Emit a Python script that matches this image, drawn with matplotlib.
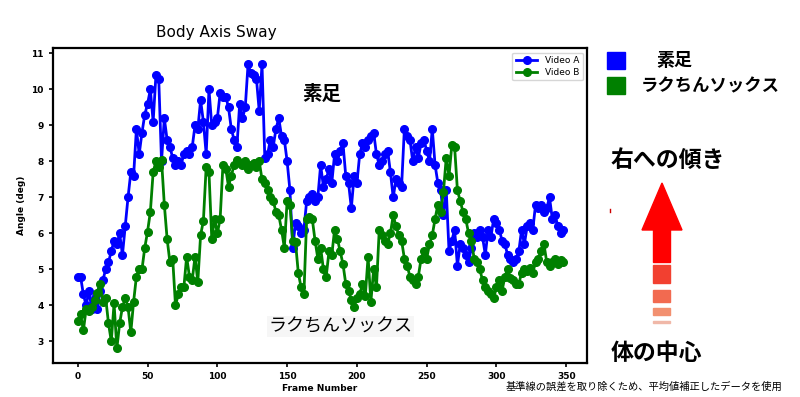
"""
Body Axis Sway: 素足 vs ラクちんソックス
"""

import numpy as np
import matplotlib
matplotlib.use("Agg")
import matplotlib.pyplot as plt
from matplotlib.patches import Polygon, Rectangle

plt.rcParams["font.family"] = ["DejaVu Sans", "Noto Sans CJK JP"]
JP = ["Noto Sans CJK JP", "DejaVu Sans"]

# frame numbers (every 2nd frame)
frames = np.arange(0, 350, 2)

# Video A (素足)
video_a = [
    4.8, 4.8, 4.3, 4.0, 4.4, 3.9, 4.2, 3.9, 4.4, 4.7,
    5.0, 5.2, 5.5, 5.8, 5.7, 6.0, 5.4, 6.2, 7.0, 7.7,
    7.6, 8.9, 8.2, 8.8, 9.3, 9.6, 10.0, 9.1, 10.4, 10.3,
    8.0, 9.2, 8.6, 8.4, 8.1, 7.9, 8.0, 7.9, 8.2, 8.3,
    8.2, 8.4, 9.0, 8.9, 9.7, 9.1, 8.2, 10.0, 9.0, 9.1,
    9.2, 9.9, 9.8, 9.8, 9.5, 8.9, 8.6, 8.4, 9.6, 9.2,
    9.5, 10.7, 10.45, 10.4, 10.3, 9.4, 10.7, 8.1, 8.2, 8.6,
    8.4, 8.9, 9.2, 8.7, 8.6, 8.0, 7.2, 5.6, 6.3, 6.2,
    6.0, 6.1, 6.9, 7.0, 7.1, 6.9, 7.0, 7.9, 7.3, 7.5,
    7.8, 7.4, 8.2, 8.0, 8.3, 8.5, 7.6, 7.4, 6.7, 7.6,
    7.4, 8.2, 8.5, 8.4, 8.6, 8.7, 8.8, 8.2, 7.9, 8.0,
    8.2, 8.3, 7.7, 7.0, 7.5, 7.4, 7.3, 8.9, 8.7, 8.6,
    8.0, 8.4, 8.1, 8.5, 8.6, 8.3, 8.0, 8.9, 7.9, 7.4,
    7.2, 6.5, 7.2, 5.5, 5.8, 6.1, 5.1, 5.7, 5.6, 5.4,
    5.2, 5.6, 6.0, 5.9, 6.1, 5.9, 5.4, 6.1, 5.9, 6.4,
    6.3, 6.1, 5.8, 5.7, 5.4, 5.3, 5.2, 5.3, 5.5, 6.1,
    5.7, 6.2, 6.3, 6.1, 6.8, 6.7, 6.8, 6.6, 6.7, 7.0,
    6.4, 6.5, 6.2, 6.0, 6.1,
]

# Video B (ラクちんソックス)
video_b = [
    3.55, 3.75, 3.3, 3.9, 3.85, 3.95, 4.15, 4.35, 4.6, 4.1,
    4.2, 3.5, 3.0, 4.05, 2.8, 3.5, 3.95, 4.2, 3.95, 3.25,
    4.1, 4.8, 5.0, 5.0, 5.6, 6.05, 6.6, 7.7, 8.0, 7.85,
    8.05, 6.8, 5.85, 5.2, 5.3, 4.0, 4.3, 4.5, 4.5, 5.35,
    4.8, 4.7, 5.35, 4.65, 5.95, 6.35, 7.85, 7.7, 5.85, 6.4,
    6.0, 6.4, 7.9, 7.8, 7.3, 7.6, 7.9, 8.05, 7.95, 7.9,
    8.0, 7.8, 7.9, 7.95, 7.85, 8.0, 7.5, 7.4, 7.2, 7.0,
    6.9, 6.6, 6.5, 6.1, 5.6, 6.9, 6.8, 5.8, 5.75, 4.9,
    4.5, 4.3, 6.4, 6.45, 6.4, 5.8, 5.3, 5.6, 5.0, 4.8,
    5.5, 5.4, 6.1, 5.85, 5.5, 5.15, 4.6, 4.4, 4.15, 3.95,
    4.2, 4.3, 4.6, 4.25, 5.35, 4.1, 5.0, 4.5, 6.1, 5.95,
    5.8, 5.7, 6.0, 6.5, 6.2, 5.95, 5.8, 5.3, 5.1, 4.8,
    4.7, 4.6, 4.8, 5.3, 5.5, 5.3, 5.7, 5.95, 6.4, 6.8,
    6.6, 7.15, 8.1, 7.6, 8.45, 8.4, 7.2, 6.9, 6.6, 6.4,
    6.0, 5.8, 5.3, 5.2, 5.0, 4.7, 4.5, 4.4, 4.3, 4.2,
    4.5, 4.7, 4.4, 4.8, 5.0, 4.75, 4.7, 4.6, 4.6, 4.9,
    5.0, 4.95, 5.05, 4.9, 5.2, 5.3, 5.5, 5.7, 5.2, 5.1,
    5.2, 5.3, 5.15, 5.25, 5.2,
]

fig = plt.figure(figsize=(8, 3.97), dpi=100)
ax = fig.add_axes([0.066, 0.086, 0.668, 0.793])

ax.plot(frames, video_a, "o-", color="#0000ff", linewidth=2,
        markersize=5.5, label="Video A")
ax.plot(frames, video_b, "o-", color="#008000", linewidth=2,
        markersize=5.5, label="Video B")

ax.set_xlim(-17.9, 365)
ax.set_ylim(2.4, 11.15)
ax.set_xticks([0, 50, 100, 150, 200, 250, 300, 350])
ax.set_yticks([3, 4, 5, 6, 7, 8, 9, 10, 11])
ax.tick_params(labelsize=6.5, width=1.2, length=3)
for lab in ax.get_xticklabels() + ax.get_yticklabels():
    lab.set_fontweight("bold")
for sp in ax.spines.values():
    sp.set_linewidth(1.6)
ax.set_xlabel("Frame Number", fontsize=6.5, fontweight="bold", labelpad=2)
ax.set_ylabel("Angle (deg)", fontsize=6.5, fontweight="bold", labelpad=4)
ax.legend(loc="upper right", fontsize=6.5, handlelength=2.4,
          borderpad=0.4, labelspacing=0.3)

ax.text(175, 9.85, "素足", family=JP, fontsize=14, fontweight="bold",
        ha="center", va="center")
ax.text(188, 3.4, "ラクちんソックス", family=JP, fontsize=13,
        ha="center", va="center",
        bbox=dict(facecolor="#f6f6f6", edgecolor="none", pad=1))

fig.text(0.271, 0.918, "Body Axis Sway", fontsize=11, ha="center",
         va="center")

# right-hand panel drawn in pixel coordinates
ov = fig.add_axes([0, 0, 1, 1], zorder=5)
ov.set_xlim(0, 800)
ov.set_ylim(397, 0)
ov.axis("off")
ov.patch.set_alpha(0)

ov.add_patch(Rectangle((607, 52), 18, 17, color="#0000ff"))
ov.add_patch(Rectangle((607, 77), 18, 17, color="#008000"))
ov.text(674, 60, "素足", family=JP, fontsize=13, fontweight="bold",
        ha="center", va="center")
ov.text(710, 86, "ラクちんソックス", family=JP, fontsize=12.5,
        fontweight="bold", ha="center", va="center")
ov.text(668, 160, "右への傾き", family=JP, fontsize=16.5, fontweight="bold",
        ha="center", va="center")
ov.text(656, 353, "体の中心", family=JP, fontsize=16.5, fontweight="bold",
        ha="center", va="center")
ov.text(644, 387, "基準線の誤差を取り除くため、平均値補正したデータを使用",
        family=JP, fontsize=7.4, ha="center", va="center")

# arrow: solid head + shaft, then fading dashes
ov.add_patch(Polygon([(642, 230), (682, 230), (662, 183)], closed=True,
                     color="#ff0000"))
ov.add_patch(Rectangle((653, 229), 17, 33, color="#ff0000"))
for y0, h, c in [(265, 18, "#f24030"), (290, 12, "#f26a50"),
                 (308, 7, "#f29070"), (321, 2, "#f0b8a8")]:
    ov.add_patch(Rectangle((653, y0), 17, h, color=c))
ov.plot([610, 610], [209, 212], color="#cc0000", linewidth=1)

fig.savefig("out.png", dpi=100)
